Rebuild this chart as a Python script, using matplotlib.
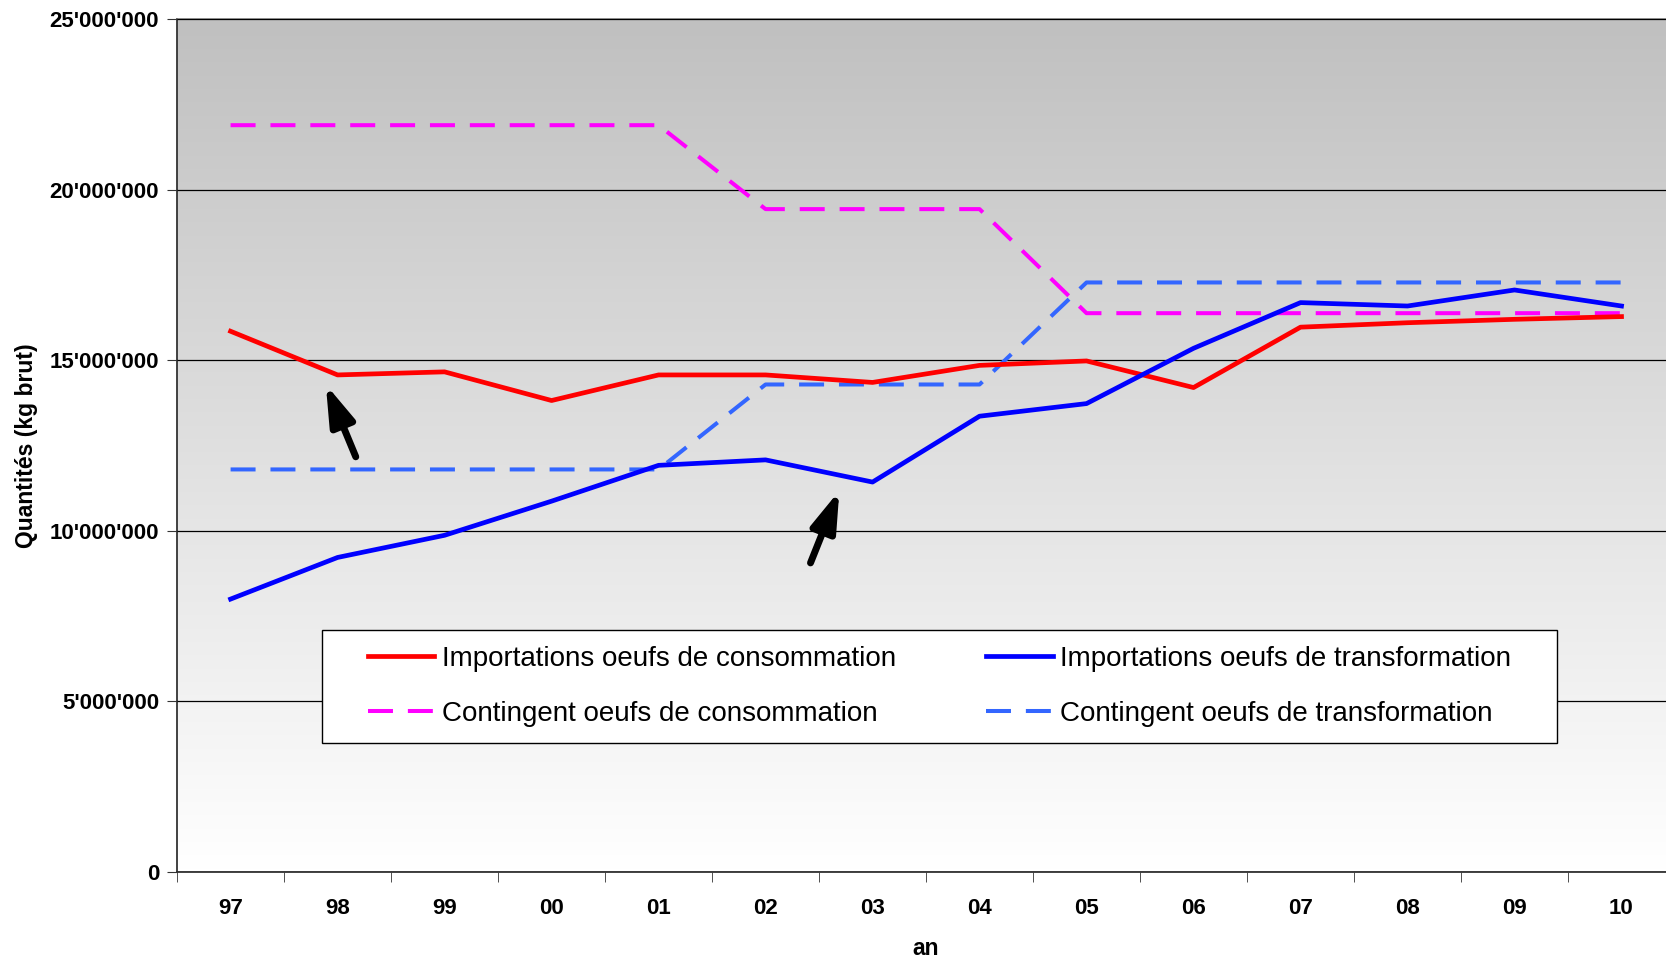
import numpy as np
import matplotlib
matplotlib.use("Agg")
import matplotlib.pyplot as plt
from matplotlib.ticker import FuncFormatter, FixedLocator
from matplotlib.patches import Rectangle

plt.rcParams['font.family'] = ['Liberation Sans', 'DejaVu Sans']

years = ['97', '98', '99', '00', '01', '02', '03', '04', '05', '06', '07', '08', '09', '10']
imp_conso = [15.85, 14.57, 14.66, 13.82, 14.57, 14.57, 14.35, 14.85, 14.98, 14.2, 15.97, 16.1, 16.2, 16.28]
imp_transfo = [8.0, 9.22, 9.87, 10.87, 11.92, 12.08, 11.43, 13.36, 13.73, 15.35, 16.69, 16.59, 17.06, 16.59]
cont_conso = [21.89, 21.89, 21.89, 21.89, 21.89, 19.43, 19.43, 19.43, 16.38, 16.38, 16.38, 16.38, 16.38, 16.38]
cont_transfo = [11.8, 11.8, 11.8, 11.8, 11.8, 14.29, 14.29, 14.29, 17.28, 17.28, 17.28, 17.28, 17.28, 17.28]

# arrows (tail -> head), x in category index, y in millions
arrow_tails = [(1.17, 12.17), (5.42, 9.06)]
arrow_heads = [(0.89, 14.29), (5.69, 11.18)]

M = 1e6
x = np.arange(len(years))

fig = plt.figure(figsize=(16.66, 9.59), dpi=100)
ax = fig.add_axes([0.1063, 0.0907, 0.8991, 0.8894])

# background gradient
grad = np.linspace(0, 1, 256).reshape(-1, 1)
cmap = matplotlib.colors.LinearSegmentedColormap.from_list('bg', ['#ffffff', '#c0c0c0'])
ax.imshow(grad, aspect='auto', cmap=cmap, origin='lower',
          extent=[-0.5, len(years) - 0.5, 0, 25 * M], zorder=0)

dash = (6.2, 3.7)
ax.plot(x, np.array(cont_conso) * M, color='#ff00ff', lw=2.9, dashes=dash, zorder=3,
        label='Contingent oeufs de consommation')
ax.plot(x, np.array(cont_transfo) * M, color='#3366ff', lw=2.9, dashes=dash, zorder=3,
        label='Contingent oeufs de transformation')
ax.plot(x, np.array(imp_conso) * M, color='#ff0000', lw=3.4, zorder=4,
        label='Importations oeufs de consommation')
ax.plot(x, np.array(imp_transfo) * M, color='#0000ff', lw=3.4, zorder=4,
        label='Importations oeufs de transformation')

for (tx, ty), (hx, hy) in zip(arrow_tails, arrow_heads):
    ax.annotate('', xy=(hx, hy * M), xytext=(tx, ty * M),
                arrowprops=dict(arrowstyle='-|>,head_length=1.2,head_width=0.38',
                                mutation_scale=20, color='black', lw=5,
                                shrinkA=0, shrinkB=0),
                zorder=5)

ax.set_xlim(-0.5, len(years) - 0.5)
ax.set_ylim(0, 25 * M)

ax.yaxis.set_major_locator(FixedLocator(np.arange(0, 25.1, 5) * M))
ax.yaxis.set_major_formatter(FuncFormatter(lambda v, p: '0' if v == 0 else f"{int(v):,}".replace(',', "'")))
ax.grid(axis='y', color='black', lw=0.9, zorder=1)
ax.set_axisbelow(False)

ax.set_xticks(x)
ax.set_xticklabels(years)
ax.set_xticks(np.arange(-0.5, len(years)), minor=True)
ax.tick_params(axis='x', which='major', length=0, pad=19)
ax.tick_params(axis='x', which='minor', length=7, color='#333333')
ax.tick_params(axis='y', length=7, color='#333333', pad=6)
for lab in ax.get_xticklabels() + ax.get_yticklabels():
    lab.set_fontweight('bold')
    lab.set_fontsize(16)

for s in ['left', 'bottom']:
    ax.spines[s].set_color('#333333')
    ax.spines[s].set_linewidth(1.3)
ax.spines['right'].set_visible(False)
ax.spines['top'].set_color('#777777')
ax.spines['top'].set_linewidth(1.2)

ax.set_xlabel('an', fontsize=16.5, fontweight='bold', labelpad=13)
ax.set_ylabel('Quantités (kg brut)', fontsize=16.5, fontweight='bold', labelpad=8)

# legend box
box_x, box_y, box_w, box_h = 0.0965, 0.1507, 0.825, 0.1333
ax.add_patch(Rectangle((box_x, box_y), box_w, box_h, transform=ax.transAxes,
                       facecolor='white', edgecolor='black', lw=1.0, zorder=6))

h, l = ax.get_legend_handles_labels()
order = [2, 0, 3, 1]
leg = ax.legend([h[i] for i in order], [l[i] for i in order], ncol=2,
                loc='center', bbox_to_anchor=(box_x + box_w / 2, box_y + box_h / 2),
                fontsize=20, frameon=False,
                handlelength=2.4, handletextpad=0.27, columnspacing=3.25,
                labelspacing=1.05, borderpad=0, borderaxespad=0)
leg.set_zorder(7)

fig.savefig('out.png', dpi=100)
